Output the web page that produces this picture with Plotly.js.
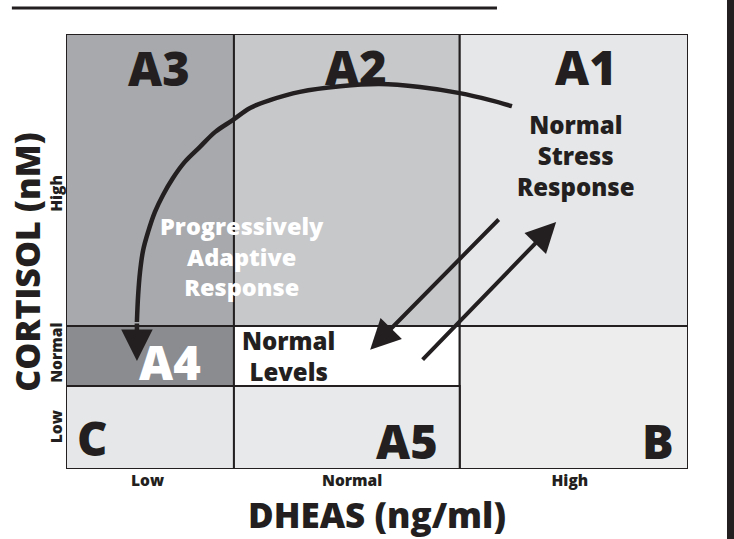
<!DOCTYPE html>
<html>
<head>
<meta charset="utf-8">
<script src="https://cdn.plot.ly/plotly-3.0.1.min.js"></script>
<style>html,body{margin:0;padding:0;background:#fff;overflow:hidden;}#chart{width:734px;height:539px;}</style>
</head>
<body>
<div id="chart"></div>
<script>
// ---- data (axis units: 0-100 on both axes) ----
const xLevels = ["Low", "Normal", "High"];           // DHEAS levels
const yLevels = ["Low", "Normal", "High"];           // Cortisol levels
const xEdges = [0, 27.0, 63.3, 100];                 // column boundaries
const yEdges = [0, 19.1, 32.9, 100];                 // row boundaries
const xTickVals = [13.1, 46.0, 81.0];
const yTickVals = [9.2, 26.2, 62.8];

// cells: [col0, col1, row0, row1]
const cellNames  = ["A3", "A2", "A1", "A4", "Normal Levels", "B", "C", "A5"];
const cellCols   = [[0,1],[1,2],[2,3],[0,1],[1,2],[2,3],[0,1],[1,2]];
const cellRows   = [[2,3],[2,3],[2,3],[1,2],[1,2],[0,2],[0,1],[0,1]];
const cellFill   = ["#a7a9ac","#c7c8ca","#e6e7e8","#8b8c8f","#ffffff","#ededee","#e6e7e8","#e8e9ea"];

// region labels
const labelText  = ["A3","A2","A1","A4","A5","C","B"];
const labelX     = [14.95, 46.6, 83.6, 16.7, 54.9, 4.3, 95.1];
const labelY     = [92.2, 92.4, 92.4, 24.6, 6.4, 7.2, 6.4];
const labelColor = ["#231f20","#231f20","#231f20","#ffffff","#231f20","#231f20","#231f20"];

// descriptive notes
const noteText  = ["Normal<br>Stress<br>Response", "Progressively<br>Adaptive<br>Response", "Normal<br>Levels"];
const noteX     = [82.0, 28.3, 35.7];
const noteY     = [72.0, 48.9, 25.9];
const noteColor = ["#231f20", "#ffffff", "#231f20"];

// curved arrow path (A1 -> A4)
const curveX = [71.7, 68.2, 63.3, 56.9, 50.5, 44.1, 37.6, 32.8, 29.6, 26.8, 24.0, 21.5, 19.1, 17.2, 15.6, 14.3, 13.2, 12.4, 11.9, 11.6, 11.4];
const curveY = [83.4, 84.8, 86.4, 87.8, 88.5, 88.0, 86.7, 84.8, 83.0, 80.2, 77.5, 74.0, 70.6, 66.9, 63.0, 59.1, 54.5, 50.3, 45.3, 40.0, 33.8];
const curveTip = [11.4, 24.8];

// straight arrows: [tailX, tailY, tipX, tipY]
const arrowTailX = [69.8, 57.1];
const arrowTailY = [57.7, 24.8];
const arrowTipX  = [48.9, 78.8];
const arrowTipY  = [27.4, 56.8];

// ---- build ----
const INK = "#231f20";
const FONT = "Open Sans, DejaVu Sans, sans-serif";

const shapes = [];
for (let i = 0; i < cellNames.length; i++) {
  shapes.push({
    type: "rect", xref: "x", yref: "y", layer: "below",
    x0: xEdges[cellCols[i][0]], x1: xEdges[cellCols[i][1]],
    y0: yEdges[cellRows[i][0]], y1: yEdges[cellRows[i][1]],
    fillcolor: cellFill[i], line: {color: INK, width: 2}
  });
}
// decorative page rule and side bar
shapes.push({type: "line", xref: "paper", yref: "paper", x0: -0.087, x1: 0.6929, y0: 1.0598, y1: 1.0598, line: {color: INK, width: 3}});
shapes.push({type: "rect", xref: "paper", yref: "paper", x0: 1.0627, x1: 1.2, y0: -0.2, y1: 1.2, fillcolor: INK, line: {width: 0}});

const annotations = [];
for (let i = 0; i < labelText.length; i++) {
  annotations.push({x: labelX[i], y: labelY[i], xref: "x", yref: "y", text: labelText[i], showarrow: false,
    font: {family: FONT, size: 47, weight: 800, color: labelColor[i]}});
}
for (let i = 0; i < noteText.length; i++) {
  annotations.push({x: noteX[i], y: noteY[i], xref: "x", yref: "y", text: noteText[i], showarrow: false, align: "center",
    font: {family: FONT, size: i === 1 ? 23.5 : 24, weight: 800, color: noteColor[i]}});
}
// arrowhead at the end of the curve
annotations.push({x: curveTip[0], y: curveTip[1], ax: curveX[curveX.length-1], ay: curveY[curveY.length-1],
  xref: "x", yref: "y", axref: "x", ayref: "y", text: "", showarrow: true,
  arrowhead: 2, arrowsize: 1.4, arrowwidth: 4.5, arrowcolor: INK, standoff: 0, startstandoff: 0});
for (let i = 0; i < arrowTailX.length; i++) {
  annotations.push({x: arrowTipX[i], y: arrowTipY[i], ax: arrowTailX[i], ay: arrowTailY[i],
    xref: "x", yref: "y", axref: "x", ayref: "y", text: "", showarrow: true,
    arrowhead: 2, arrowsize: 1.5, arrowwidth: 4, arrowcolor: INK, standoff: 0, startstandoff: 0});
}
// y-axis title (placed to match the reference's vertical centring)
annotations.push({x: -0.063, y: 0.476, xref: "paper", yref: "paper", xanchor: "center", yanchor: "middle",
  text: "CORTISOL (nM)", textangle: -90,
  showarrow: false, font: {family: FONT, size: 34, weight: 800, color: INK}});

const traces = [{
  x: curveX, y: curveY, type: "scatter", mode: "lines",
  line: {color: INK, width: 4.5, shape: "spline"}, hoverinfo: "skip", showlegend: false
}];

const layout = {
  width: 734, height: 539,
  margin: {l: 66, r: 46, t: 34, b: 70},
  paper_bgcolor: "#ffffff", plot_bgcolor: "#ffffff",
  showlegend: false,
  font: {family: FONT, color: INK},
  xaxis: {
    range: [0, 100], showgrid: false, zeroline: false, showline: false,
    tickmode: "array", tickvals: xTickVals, ticktext: xLevels, ticks: "",
    tickfont: {family: FONT, size: 15.5, weight: 800, color: INK},
    title: {text: "DHEAS (ng/ml)", standoff: 4, font: {family: FONT, size: 35, weight: 800, color: INK}},
    fixedrange: true
  },
  yaxis: {
    range: [0, 100], showgrid: false, zeroline: false, showline: false,
    tickmode: "array", tickvals: yTickVals, ticktext: yLevels, ticks: "", tickangle: -90,
    tickfont: {family: FONT, size: 15.5, weight: 800, color: INK},
    fixedrange: true
  },
  shapes: shapes,
  annotations: annotations
};

Plotly.newPlot("chart", traces, layout, {displayModeBar: false, staticPlot: true});
</script>
</body>
</html>
